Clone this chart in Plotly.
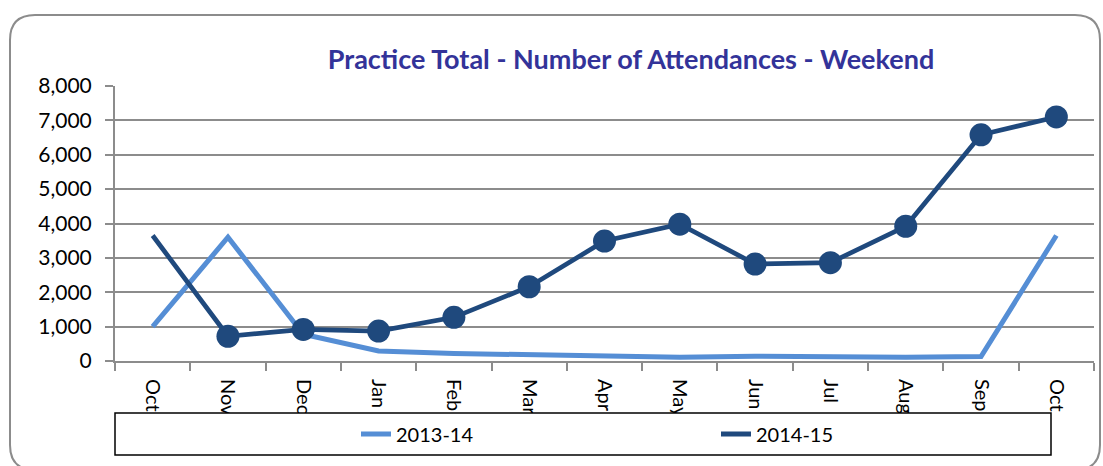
import plotly.graph_objects as go

months = ["Oct", "Nov", "Dec", "Jan", "Feb", "Mar", "Apr", "May", "Jun", "Jul", "Aug", "Sep", "Oct"]
s2013 = [1000, 3600, 780, 290, 220, 180, 150, 110, 140, 120, 110, 130, 3650]
s2014 = [3650, 720, 920, 870, 1270, 2160, 3490, 3980, 2820, 2860, 3920, 6580, 7100]
y_ticks = [0, 1000, 2000, 3000, 4000, 5000, 6000, 7000, 8000]

W, H = 1103, 466
L, R, T, B = 115, 9, 86, 105
PW, PH = W - L - R, H - T - B

def px(x):
    return (x - L) / PW

def py(y):
    return (H - B - y) / PH

FONT = "Lato"
xs = list(range(len(months)))
C13, C14 = "#558ED5", "#1F497D"

fig = go.Figure()
fig.add_trace(go.Scatter(
    x=xs, y=s2013, name="2013-14", mode="lines",
    line=dict(color=C13, width=5),
))
fig.add_trace(go.Scatter(
    x=xs, y=s2014, name="2014-15", mode="lines+markers", showlegend=False,
    legendgroup="g14",
    line=dict(color=C14, width=4.7),
    marker=dict(color=C14, opacity=1, line=dict(width=0),
                size=[0] + [23] * (len(months) - 1)),
))
# legend proxy (line only, as in the reference legend)
fig.add_trace(go.Scatter(
    x=[None], y=[None], name="2014-15", mode="lines", legendgroup="g14",
    line=dict(color=C14, width=5), hoverinfo="skip",
))

# outer rounded frame
x0, y0, x1, y1, r = 10, 15, 1100, 470, 25
path = (f"M {px(x0+r)},{py(y0)} L {px(x1-r)},{py(y0)} Q {px(x1)},{py(y0)} {px(x1)},{py(y0+r)} "
        f"L {px(x1)},{py(y1-r)} Q {px(x1)},{py(y1)} {px(x1-r)},{py(y1)} "
        f"L {px(x0+r)},{py(y1)} Q {px(x0)},{py(y1)} {px(x0)},{py(y1-r)} "
        f"L {px(x0)},{py(y0+r)} Q {px(x0)},{py(y0)} {px(x0+r)},{py(y0)} Z")
shapes = [
    dict(type="path", xref="paper", yref="paper", path=path,
         line=dict(color="#8C8C8C", width=2), fillcolor="rgba(0,0,0,0)", layer="below"),
    dict(type="rect", xref="paper", yref="paper",
         x0=px(115), x1=px(1051), y0=py(413), y1=py(455),
         line=dict(color="black", width=1.5), fillcolor="white", layer="above"),
]

fig.update_layout(
    width=W, height=H,
    margin=dict(l=L, r=R, t=T, b=B),
    paper_bgcolor="white", plot_bgcolor="white",
    font=dict(family=FONT, size=20, color="black"),
    title=dict(text="<b>Practice Total - Number of Attendances - Weekend</b>",
               font=dict(family=FONT, size=27, color="#333399"),
               x=px(631), xref="paper", xanchor="center",
               y=1 - 60 / H, yref="container", yanchor="middle"),
    showlegend=True,
    legend=dict(orientation="h", x=px(356), y=py(434), xanchor="left", yanchor="middle",
                xref="paper", yref="paper", bgcolor="rgba(0,0,0,0)", borderwidth=0,
                entrywidth=315, entrywidthmode="pixels",
                font=dict(family=FONT, size=20, color="black")),
    shapes=shapes,
)

fig.update_xaxes(
    range=[-0.5, len(months) - 0.5],
    tickvals=xs, ticktext=months, tickangle=90,
    ticks="outside", ticklen=8, tickcolor="rgba(0,0,0,0)",
    ticklabelstandoff=4,
    showline=True, linecolor="#8C8C8C", linewidth=2,
    showgrid=False, zeroline=False,
    minor=dict(tickvals=[i - 0.5 for i in range(len(months) + 1)], ticks="outside",
               ticklen=8, tickcolor="#8C8C8C", tickwidth=2, showgrid=False),
    tickfont=dict(family=FONT, size=20, color="black"),
)
fig.update_yaxes(
    range=[0, 8000], tickvals=y_ticks, tickformat=",",
    ticks="outside", ticklen=8, tickcolor="#8C8C8C", tickwidth=2,
    ticklabelstandoff=9,
    showline=True, linecolor="#8C8C8C", linewidth=2,
    showgrid=True, gridcolor="#8C8C8C", gridwidth=2, zeroline=False,
    tickfont=dict(family=FONT, size=21, color="black"),
)

fig.write_html("out.html", config={"displayModeBar": False},
               post_script="document.body.style.margin='0px';")
